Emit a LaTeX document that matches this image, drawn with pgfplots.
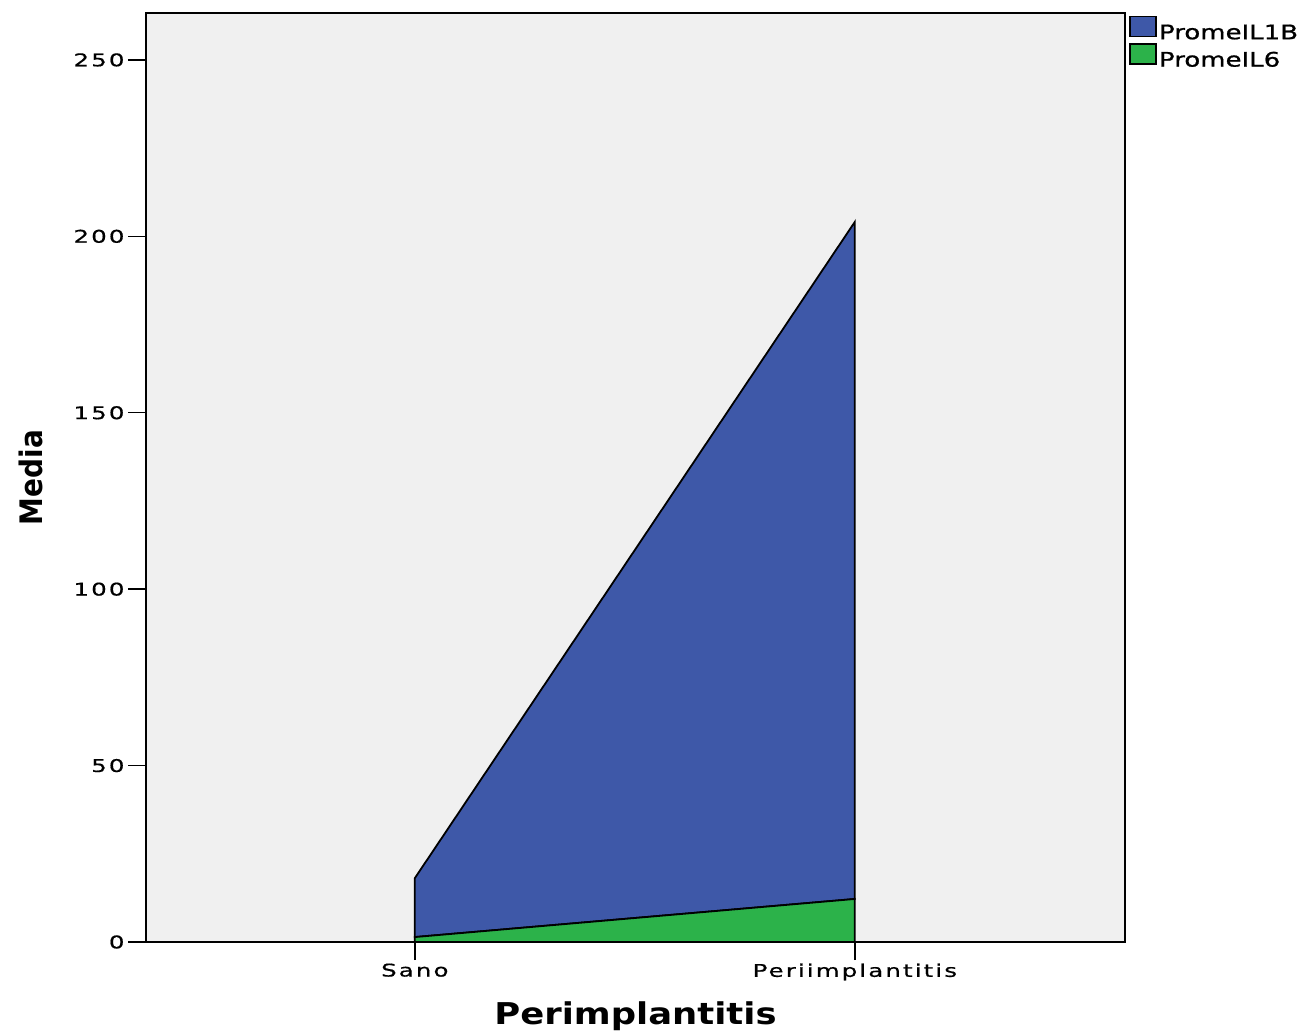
\documentclass[border=0pt]{standalone}
\usepackage{fontspec}
\usepackage{pgfplots}
\pgfplotsset{compat=1.18}
\setmainfont{DejaVu Sans}
\newfontfamily\tickfont[FakeStretch=1.4,LetterSpace=12,FakeBold=0.6]{DejaVu Sans}
\newfontfamily\legfont[FakeStretch=1.3,FakeBold=1]{DejaVu Sans}
\newfontfamily\labfont[FakeStretch=1.18]{DejaVu Sans}
\newfontfamily\ylabfont[FakeStretch=0.9]{DejaVu Sans}
\definecolor{bgc}{RGB}{240,240,240}
\definecolor{bluec}{RGB}{62,88,168}
\definecolor{greenc}{RGB}{44,178,74}
\begin{document}
\begin{tikzpicture}
\begin{axis}[
  width=979pt, height=929pt, scale only axis,
  xmin=-0.611, xmax=1.614, ymin=0, ymax=263.3,
  axis background/.style={fill=bgc},
  axis line style={black, line width=1.6pt},
  xtick={0,1}, xticklabels={Sano,Periimplantitis},
  ytick={0,50,100,150,200,250},
  tick align=outside, major tick length=18pt,
  tick style={black, line width=1.4pt},
  tick pos=left,
  stack plots=y,
  /pgf/number format/assume math mode=true,
  yticklabel style={font=\tickfont\fontsize{17.5}{19}\selectfont, text=black},
  xticklabel style={font=\tickfont\fontsize{17.5}{19}\selectfont, text=black},
  xlabel={Perimplantitis}, ylabel={Media},
  xlabel shift=14pt, ylabel shift=24pt,
  xlabel style={font=\labfont\bfseries\fontsize{30}{34}\selectfont},
  ylabel style={font=\ylabfont\bfseries\fontsize{31}{34}\selectfont},
  legend style={at={(1.004,0.997)}, anchor=north west, draw=none, fill=none,
    font=\legfont\fontsize{20}{22}\selectfont, inner sep=0pt,
    nodes={inner sep=2.5pt}, row sep=0pt},
  legend cell align=left,
  reverse legend,
  legend image code/.code={\draw[#1, line width=1.4pt] (0pt,-4pt) rectangle (26pt,16pt);},
]
\addplot[fill=greenc, draw=black, line width=1.8pt] coordinates {(0,1.4) (1,12.2)} \closedcycle;
\addplot[fill=bluec, draw=black, line width=1.8pt] coordinates {(0,16.7) (1,191.9)} \closedcycle;
\legend{PromeIL6, PromeIL1B}
\coordinate (LL) at (rel axis cs:0,0);
\coordinate (UR) at (rel axis cs:1,1);
\end{axis}
\path (LL) ++(-146pt,-89pt);
\path (UR) ++(184pt,13pt);
\end{tikzpicture}
\end{document}
